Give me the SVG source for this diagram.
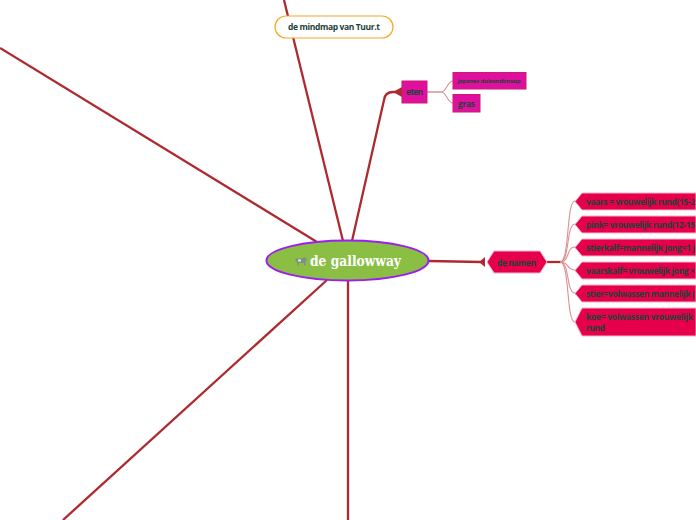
<svg xmlns="http://www.w3.org/2000/svg" width="696" height="520" viewBox="0 0 696 520">
<style>
text{font-family:"Open Sans","Noto Sans",sans-serif;font-weight:700;fill:#1c4238}
.main{fill:none;stroke:#ad2a2f;stroke-width:2.3}
.sub{fill:none;stroke:#de8f90;stroke-width:1.1}
.head{fill:#ad2a2f}
.mag{fill:#e0109f;stroke:#c81d70;stroke-width:1}
.red{fill:#e6004c;stroke:#f9b3c8;stroke-width:1}
.t{font-size:8.500px}
</style>
<rect width="696" height="520" fill="#fff"/>
<g id="connectors">
<path class="main" d="M0 48L317 242"/>
<path class="main" d="M284 0L343 241"/>
<path class="main" d="M352 241L384 100Q385 92 393 92H396"/>
<path class="main" d="M429 261L481 262"/>
<path class="main" d="M327 280L63 520"/>
<path class="main" d="M348 281V520"/>
<path class="head" d="M393 92L402 87V97Z"/>
<path class="head" d="M479 262L485 257V267Z"/>
<path class="main" d="M547 262H561"/>
<path class="sub" d="M427 92H441C447 92 447 81 453 81"/>
<path class="sub" d="M427 92H441C447 92 447 103 453 103"/>
<path class="sub" d="M560 262C570 262 566 201 575 201"/>
<path class="sub" d="M560 262C570 262 566 224 575 224"/>
<path class="sub" d="M560 262C570 262 566 247 575 247"/>
<path class="sub" d="M560 262C570 262 566 270 575 270"/>
<path class="sub" d="M560 262C570 262 566 293 575 293"/>
<path class="sub" d="M560 262C570 262 566 322 575 322"/>
</g>
<g id="node-mindmap">
<rect x="275" y="16" width="118" height="22" rx="11" fill="#fff" stroke="#f7a823" stroke-width="1.2"/>
<text x="288" y="30" font-size="8.500" textLength="92">de mindmap van Tuur.t</text>
</g>
<g id="node-eten"><rect class="mag" x="402" y="81" width="25" height="22"/><text class="t" x="406" y="95" textLength="17">eten</text></g>
<g id="node-japanse"><rect class="mag" x="453" y="72.500" width="73" height="16.500"/><text x="457.500" y="83" font-size="6" font-weight="600" textLength="63">japanse duizendknoop</text></g>
<g id="node-gras"><rect class="mag" x="453" y="94.500" width="27" height="17.500"/><text class="t" x="458" y="106.500" textLength="17">gras</text></g>
<g id="node-center">
<ellipse cx="347.500" cy="260.500" rx="81" ry="20" fill="#8abf44" stroke="#9a1ff0" stroke-width="2"/>
<path d="M295.500 258.500h7l1-1h3v3l-1 .5v4.500h-1.500v-2.500h-5.500v2.500h-1.500v-3.500l-1.500-1z" fill="#7f8c88"/>
<path d="M298 259.500h3v2h-3z" fill="#e8ece6"/>
<text x="310" y="266" font-size="14.500" textLength="91" lengthAdjust="spacingAndGlyphs" style="font-family:'DejaVu Serif',serif;fill:#fff">de gallowway</text>
</g>
<g id="node-namen"><path class="red" d="M494 251H540L547 262L540 273H494L487 262Z"/><text class="t" x="497" y="265.500" textLength="39">de namen</text></g>
<g id="node-vaars"><path class="red" d="M582 193H696V210H582L575 201.500Z"/><text class="t" x="586" y="205" textLength="109">vaars = vrouwelijk rund(15-2</text></g>
<g id="node-pink"><path class="red" d="M582 216H696V233H582L575 224.500Z"/><text class="t" x="586" y="228" textLength="109">pink= vrouwelijk rund(12-15</text></g>
<g id="node-stierkalf"><path class="red" d="M582 239H696V256H582L575 247.500Z"/><text class="t" x="586" y="251" textLength="109">stierkalf=mannelijk jong&lt;1 j</text></g>
<g id="node-vaarskalf"><path class="red" d="M582 262H696V279H582L575 270.500Z"/><text class="t" x="586" y="274" textLength="109">vaarskalf= vrouwelijk jong &lt;</text></g>
<g id="node-stier"><path class="red" d="M582 285H696V302H582L575 293.500Z"/><text class="t" x="586" y="297" textLength="109">stier=volwassen mannelijk (</text></g>
<g id="node-koe"><path class="red" d="M582 308H696V336H582L575 322Z"/><text class="t" x="586" y="320" textLength="107">koe= volwassen vrouwelijk</text><text class="t" x="586" y="331" textLength="19">rund</text></g>
</svg>
